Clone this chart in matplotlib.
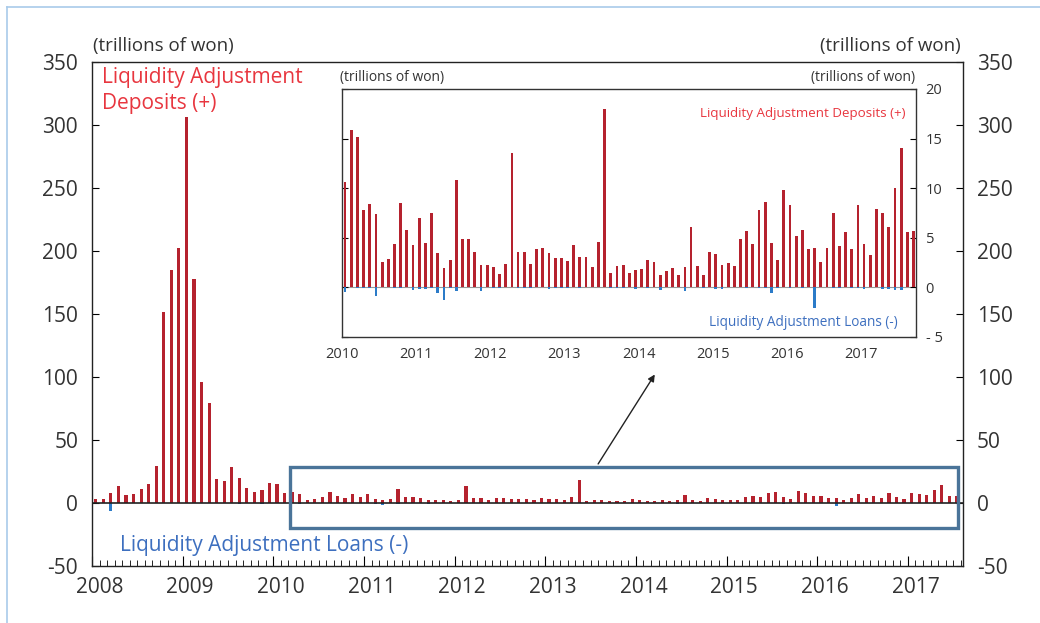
import matplotlib
matplotlib.use("Agg")
import matplotlib.pyplot as plt
from matplotlib.patches import Rectangle
from matplotlib.lines import Line2D
import numpy as np

plt.rcParams['font.family'] = ['Open Sans', 'DejaVu Sans']

# ---------------- data ----------------
# Main chart: monthly values before the inset period (trillions of won)
pre_deposits = [3, 3, 8, 13.8, 6.6, 7, 11, 14.8, 29.6, 151.3, 185, 202,
                306, 177.8, 96, 79, 19, 17.5, 28.8, 20.1, 11.9, 8.7]
pre_loans = [0, 0, -6, 0, 0, 0, 0, 0, 0, 0, 0, 0,
             0, 0, 0, 0, 0, 0, 0, -1, 0, 0]

# Inset: Jan 2010 - Sep 2017 (monthly)
inset_deposits = [10.6, 15.9, 15.2, 7.8, 8.4, 7.4, 2.6, 2.9, 4.4, 8.5, 5.8, 4.3,
                  7.0, 4.5, 7.5, 3.5, 2.0, 2.8, 10.8, 4.9, 4.9, 3.6, 2.3, 2.3,
                  2.1, 1.4, 2.4, 13.5, 3.6, 3.6, 2.4, 3.9, 4.0, 3.5, 3.0, 3.0,
                  2.7, 4.3, 3.1, 3.1, 2.1, 4.6, 18.0, 1.5, 2.2, 2.3, 1.5, 1.8,
                  1.9, 2.8, 2.6, 1.2, 1.7, 2.0, 1.3, 2.1, 6.1, 2.2, 1.2, 3.6,
                  3.4, 2.3, 2.5, 2.2, 4.9, 5.7, 4.4, 7.8, 8.6, 4.5, 2.8, 9.8,
                  8.3, 5.2, 5.8, 3.9, 4.0, 2.6, 4.0, 7.5, 4.2, 5.6, 3.9, 8.3,
                  4.4, 3.3, 7.9, 7.5, 6.1, 10.0, 14.1, 5.6, 5.7]
inset_loans = [-0.5, 0, -0.1, -0.1, -0.1, -0.9, 0, 0, -0.1, -0.1, 0, -0.25,
               -0.2, -0.2, -0.1, -0.6, -1.3, -0.1, -0.4, 0, 0, 0, -0.4, 0,
               -0.1, -0.1, 0, 0, -0.1, -0.1, -0.1, 0, 0, -0.15, -0.1, -0.1,
               -0.1, 0, -0.1, 0, 0, 0, 0, -0.1, -0.1, -0.1, 0, -0.2,
               0, -0.1, 0, -0.25, 0, 0, 0, -0.4, 0, 0, -0.1, 0,
               -0.2, -0.15, 0, 0, 0, -0.1, 0, -0.1, -0.1, -0.6, -0.1, 0,
               -0.1, 0, -0.1, 0, -2.1, 0, 0, -0.1, -0.1, 0, -0.1, -0.1,
               -0.15, 0, 0, -0.2, -0.2, -0.3, -0.25, 0, 0]

main_years = ['2008', '2009', '2010', '2011', '2012', '2013', '2014', '2015', '2016', '2017']
inset_years = ['2010', '2011', '2012', '2013', '2014', '2015', '2016', '2017']
main_yticks = [-50, 0, 50, 100, 150, 200, 250, 300, 350]
inset_yticks = [-5, 0, 5, 10, 15, 20]
inset_yticklabels = ['- 5', '0', '5', '10', '15', '20']

main_deposits = pre_deposits + inset_deposits
main_loans = pre_loans + inset_loans

RED = '#B5222E'
BLUE = '#2B7BC8'
TXT = '#333333'
RED_TXT = '#E8363F'
BLUE_TXT = '#3D6FBF'

W, H = 1040, 623
fig = plt.figure(figsize=(W / 100, H / 100), dpi=100)


def fx(x):
    return x / W


def fy(y):
    return 1 - y / H


# outer light-blue frame
fig.add_artist(Line2D([fx(7), fx(7)], [fy(7), 0], color='#A9CBEA', lw=1.2))
fig.add_artist(Line2D([fx(7), 1], [fy(7), fy(7)], color='#A9CBEA', lw=1.2))

# ---------------- main axes ----------------
ax = fig.add_axes([fx(92), fy(566), fx(963) - fx(92), fy(62) - fy(566)])
xm = np.arange(len(main_deposits))
ax.bar(xm, main_deposits, width=0.42, color=RED, linewidth=0, zorder=2)
ax.bar(xm, main_loans, width=0.42, color=BLUE, linewidth=0, zorder=2)
ax.axhline(0, color='#222222', lw=1.2, zorder=3)
ax.set_xlim(-0.5, 114.8)
ax.set_ylim(-50, 350)
ax.set_yticks(main_yticks)
ax.set_yticklabels([str(v) for v in main_yticks])
ax.tick_params(axis='y', direction='in', left=True, right=True,
               labelleft=True, labelright=True, length=5, width=0.8,
               labelsize=15, labelcolor=TXT, pad=10)
# major ticks: year boundaries (longer, unlabeled); minor: each month, labels near Jan
n_month = len(main_deposits)
ax.set_xticks([12 * i - 0.5 for i in range(len(main_years))])
ax.set_xticklabels([''] * len(main_years))
minor_pos = list(np.arange(-0.5, n_month + 0.5, 1))
minor_lab = []
for p in minor_pos:
    k = p - 0.5
    if k >= 0 and abs(k % 12) < 1e-9 and int(k // 12) < len(main_years):
        minor_lab.append(main_years[int(k // 12)])
    else:
        minor_lab.append('')
ax.set_xticks(minor_pos, minor=True)
ax.set_xticklabels(minor_lab, minor=True)
ax.tick_params(axis='x', which='major', direction='in', length=7, width=0.8)
ax.tick_params(axis='x', which='minor', direction='in', length=4, width=0.6,
               labelsize=15, labelcolor=TXT, pad=8)
for s in ax.spines.values():
    s.set_color('#222222')
    s.set_linewidth(1.0)

# highlight box + arrow
ax.add_patch(Rectangle((25.7, -19.8), 114.2 - 25.7, 28.6 + 19.8, fill=False,
                       edgecolor='#4A7499', lw=2.4, zorder=4, clip_on=False))
ax.annotate('', xy=(74, 102), xytext=(66.5, 31),
            arrowprops=dict(arrowstyle='-|>', color='#222222', lw=1.0,
                            mutation_scale=10, shrinkA=0, shrinkB=0))

fig.text(fx(93), fy(46), '(trillions of won)', fontsize=13.5, color=TXT,
         ha='left', va='center')
fig.text(fx(961), fy(46), '(trillions of won)', fontsize=13.5, color=TXT,
         ha='right', va='center')
fig.text(fx(102), fy(78), 'Liquidity Adjustment', fontsize=15, color=RED_TXT,
         ha='left', va='center')
fig.text(fx(102), fy(104), 'Deposits (+)', fontsize=15, color=RED_TXT,
         ha='left', va='center')
fig.text(fx(120), fy(546), 'Liquidity Adjustment Loans (-)', fontsize=15,
         color=BLUE_TXT, ha='left', va='center')

# ---------------- inset ----------------
axi = fig.add_axes([fx(342), fy(337), fx(916) - fx(342), fy(89) - fy(337)])
axi.set_facecolor('white')
xi = np.arange(len(inset_deposits))
axi.axhline(0, color='#999999', lw=0.8, zorder=1)
axi.bar(xi, inset_deposits, width=0.45, color=RED, linewidth=0, zorder=2)
axi.bar(xi, inset_loans, width=0.45, color=BLUE, linewidth=0, zorder=2)
axi.set_xlim(-0.5, 92.4)
axi.set_ylim(-5, 20)
axi.set_yticks(inset_yticks)
axi.set_yticklabels(inset_yticklabels)
axi.tick_params(axis='y', direction='in', left=True, right=True,
                labelleft=False, labelright=True, length=4, width=0.8,
                labelsize=10.5, labelcolor=TXT, pad=7)
axi.set_xticks([12 * i - 0.5 for i in range(len(inset_years))])
axi.set_xticklabels(inset_years)
axi.tick_params(axis='x', length=0, labelsize=10.5, labelcolor=TXT, pad=7)
for s in axi.spines.values():
    s.set_color('#333333')
    s.set_linewidth(1.0)

fig.text(fx(340), fy(77), '(trillions of won)', fontsize=10, color=TXT,
         ha='left', va='center')
fig.text(fx(915), fy(77), '(trillions of won)', fontsize=10, color=TXT,
         ha='right', va='center')
fig.text(fx(906), fy(114), 'Liquidity Adjustment Deposits (+)', fontsize=9.6,
         color=RED_TXT, ha='right', va='center')
fig.text(fx(898), fy(322), 'Liquidity Adjustment Loans (-)', fontsize=9.8,
         color=BLUE_TXT, ha='right', va='center')

fig.savefig('out.png', dpi=100)
